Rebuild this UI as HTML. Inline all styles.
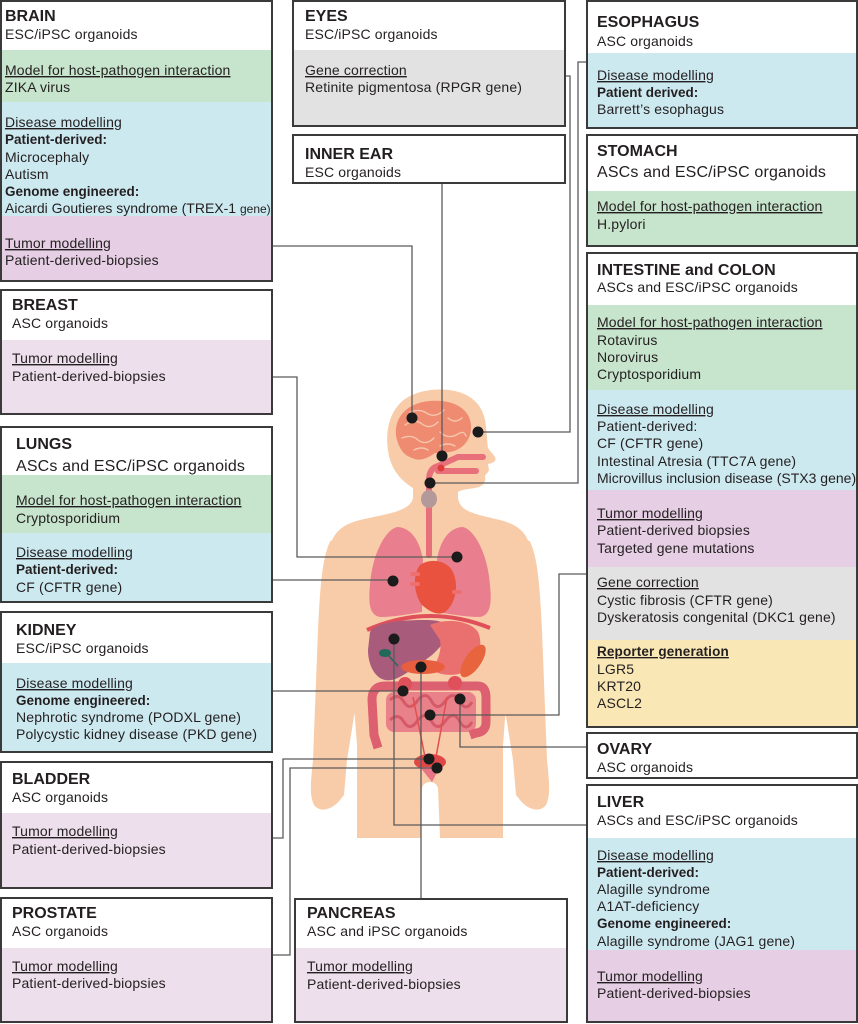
<!DOCTYPE html>
<html><head><meta charset="utf-8"><style>
html,body{margin:0;padding:0;background:#fff;}
svg{display:block;}
text{font-family:"Liberation Sans",Arial,sans-serif;fill:#231f20;font-size:14px;letter-spacing:0.15px;}
.t{font-weight:bold;font-size:16px;letter-spacing:0;}
.s16{font-size:16px;}
.u{text-decoration:underline;}
.b{font-weight:bold;font-size:13.5px;letter-spacing:0;}
.box{fill:none;stroke:#3a3a3a;stroke-width:2;}
.ln{fill:none;stroke:#5a5a5a;stroke-width:1.3;}
</style></head><body>
<svg width="858" height="1024" viewBox="0 0 858 1024" xmlns="http://www.w3.org/2000/svg">
<rect width="858" height="1024" fill="#fff"/>

<!-- BODY -->
<g fill="#F8CCA8">
<path d="M413 507 L413 488 C400 480 390 468 388 450 C385 430 390 410 405 399 C420 389 440 388 455 391 C472 395 482 405 485 420 C487 432 487 442 488 448 L495 457 C497 461 493 463 488 464 L489 470 C488 473 486 474 485 476 C486 481 484 485 479 487 C472 489 462 489 458 492 L458 507 Z"/>
<path d="M413 498 C410 512 385 514 360 520 C340 525 330 535 329 555 L337 620 L352 680 L357 745 L357 838 L421 838 L422 788 C424 780 436 780 438 788 L440 838 L503 838 L503 745 L508 680 L523 620 L531 555 C530 535 520 525 500 520 C475 514 460 512 458 498 Z"/>
<path d="M331 540 C322 555 320 590 318 630 L313 760 C311 780 309 795 314 805 C320 813 332 810 340 800 L344 795 L347 760 L355 710 L360 640 L358 580 Z"/>
<path d="M529 540 C538 555 540 590 542 630 L547 760 C549 780 551 795 546 805 C540 813 528 810 520 800 L516 795 L513 760 L505 710 L500 640 L502 580 Z"/>
</g>
<!-- brain -->
<path d="M397 440 C392 420 405 403 430 401 C455 399 470 410 471 425 C472 440 462 450 450 452 L435 453 C428 458 420 462 412 458 C404 455 400 450 397 440 Z" fill="#EE8B70"/>
<g fill="none" stroke="#F7C6AE" stroke-width="1.4" stroke-linecap="round">
<path d="M405 425 Q415 418 422 424 Q430 430 438 422"/>
<path d="M410 412 Q420 408 428 414 Q436 418 444 410"/>
<path d="M448 418 Q455 424 462 418"/>
<path d="M402 438 Q412 434 418 440 Q426 446 434 438"/>
<path d="M440 432 Q448 440 458 434 Q464 430 466 436"/>
<path d="M414 450 Q422 446 428 450"/>
<path d="M440 446 Q448 442 455 446"/>
</g>
<!-- tubes -->
<g fill="none" stroke="#E8707A" stroke-width="6" stroke-linecap="round">
<path d="M429 555 L429 478 Q430 468 438 466 L458 457 L483 457"/>
<path d="M438 471 L476 471"/>
</g>
<circle cx="441" cy="468" r="3.5" fill="#E03C3C"/>
<ellipse cx="429" cy="499" rx="8" ry="9" fill="#B4999B"/>
<!-- lungs -->
<path d="M397 527 C385 530 372 555 370 585 C368 605 370 615 380 617 C395 617 410 614 422 612 L423 560 C420 540 410 527 397 527 Z" fill="#E97F8E"/>
<path d="M463 527 C475 530 488 555 490 585 C492 605 490 615 480 617 C465 617 450 614 437 612 L437 560 C440 540 450 527 463 527 Z" fill="#E97F8E"/>
<!-- heart -->
<path d="M420 565 C430 558 445 560 452 570 C460 585 455 605 445 612 C438 616 430 612 422 605 C414 595 412 575 420 565 Z" fill="#E8523F"/>
<g fill="#EE6F70"><rect x="410" y="572" width="10" height="4" rx="2"/><rect x="410" y="582" width="10" height="4" rx="2"/><rect x="452" y="590" width="10" height="4" rx="2"/></g>
<!-- diaphragm -->
<path d="M367 630 Q428 603 490 628" fill="none" stroke="#E0505A" stroke-width="4"/>
<!-- liver -->
<path d="M370 632 C375 622 400 620 425 620 C440 620 450 623 448 632 C446 640 440 648 432 655 L420 664 C405 674 395 682 385 680 C375 678 368 665 368 650 Z" fill="#A85B7A"/>
<!-- stomach -->
<path d="M430 625 C445 618 470 620 478 632 C484 645 478 665 465 672 C452 677 440 675 432 670 C438 660 442 650 440 640 Z" fill="#EA7070"/>
<ellipse cx="473" cy="661" rx="8" ry="19" transform="rotate(35 473 661)" fill="#E8643C"/>
<ellipse cx="385" cy="653" rx="6" ry="4" fill="#1F6A58"/>
<path d="M388 655 L398 666" stroke="#1F6A58" stroke-width="1.5"/>
<ellipse cx="423" cy="667" rx="22" ry="7" fill="#E85E3E"/>
<!-- intestines -->
<rect x="386" y="692" width="90" height="40" rx="8" fill="#E9818A"/>
<g fill="none" stroke="#D45A68" stroke-width="3">
<path d="M390 700 Q398 692 404 702 Q410 712 418 700 Q426 690 432 702 Q438 712 446 700 Q454 690 460 702 Q466 712 472 702"/>
<path d="M390 720 Q398 712 404 722 Q410 732 418 720 Q426 710 432 722 Q438 732 446 720 Q454 710 460 722 Q466 732 472 722"/>
</g>
<path d="M378 748 L374 735 L372 700 Q372 686 385 686 L478 686 Q486 686 486 698 L486 722 Q486 732 476 733 L470 735" fill="none" stroke="#DD6070" stroke-width="9" stroke-linejoin="round"/>
<circle cx="405" cy="684" r="7" fill="#E0505A"/><circle cx="455" cy="683" r="7" fill="#E0505A"/>
<g stroke="#E05050" stroke-width="1.5"><path d="M413 697 L425 757"/><path d="M447 697 L436 757"/></g>
<ellipse cx="430" cy="762" rx="16" ry="8" fill="#E04848"/>
<path d="M420 767 L440 767 L432 782 Z" fill="#E87585"/>

<!-- CONNECTORS -->
<g class="ln">
<path d="M272 246 H412 V418"/>
<path d="M442 183 V456"/>
<path d="M565 76 H570 V432 H478"/>
<path d="M587 62 H578 V483 H430"/>
<path d="M272 377 H297 V557 H457"/>
<path d="M272 580 H393"/>
<path d="M272 691 H403"/>
<path d="M272 838 H283 V759 H429"/>
<path d="M272 955 H290 V768 H437"/>
<path d="M421 667 V899"/>
<path d="M394 639 V825 H587"/>
<path d="M460 699 V747 H587"/>
<path d="M430 715 H559 V574 H587"/>
</g>
<g fill="#1b1b1b">
<circle cx="412" cy="418" r="5.5"/><circle cx="478" cy="432" r="5.5"/><circle cx="442" cy="456" r="5.5"/>
<circle cx="430" cy="483" r="5.5"/><circle cx="457" cy="557" r="5.5"/><circle cx="393" cy="581" r="5.5"/>
<circle cx="394" cy="639" r="5.5"/><circle cx="421" cy="667" r="5.5"/><circle cx="403" cy="691" r="5.5"/>
<circle cx="460" cy="699" r="5.5"/><circle cx="430" cy="715" r="5.5"/><circle cx="429" cy="759" r="5.5"/>
<circle cx="437" cy="768" r="5.5"/>
</g>

<!-- BRAIN -->
<rect x="1" y="1" width="271" height="49" fill="#fff"/>
<rect x="1" y="50" width="271" height="52" fill="#C7E4CC"/>
<rect x="1" y="102" width="271" height="114" fill="#CDE9F0"/>
<rect x="1" y="216" width="271" height="65" fill="#E6CFE4"/>
<rect class="box" x="1" y="1" width="271" height="280"/>
<text class="t" x="5" y="21">BRAIN</text>
<text x="5" y="39">ESC/iPSC organoids</text>
<text class="u" x="5" y="75">Model for host-pathogen interaction</text>
<text x="5" y="92">ZIKA virus</text>
<text class="u" x="5" y="127">Disease modelling</text>
<text class="b" x="5" y="144">Patient-derived:</text>
<text x="5" y="162">Microcephaly</text>
<text x="5" y="179">Autism</text>
<text class="b" x="5" y="196">Genome engineered:</text>
<text x="5" y="213" style="letter-spacing:0">Aicardi Goutieres syndrome (TREX-1 <tspan style="font-size:12px">gene)</tspan></text>
<text class="u" x="5" y="248">Tumor modelling</text>
<text x="5" y="265">Patient-derived-biopsies</text>

<!-- BREAST -->
<rect x="1" y="290" width="271" height="50" fill="#fff"/>
<rect x="1" y="340" width="271" height="74" fill="#EEDFEC"/>
<rect class="box" x="1" y="290" width="271" height="124"/>
<text class="t" x="12" y="310">BREAST</text>
<text x="12" y="328">ASC organoids</text>
<text class="u" x="12" y="363">Tumor modelling </text>
<text x="12" y="381">Patient-derived-biopsies</text>

<!-- LUNGS -->
<rect x="1" y="427" width="271" height="48" fill="#fff"/>
<rect x="1" y="475" width="271" height="58" fill="#C7E4CC"/>
<rect x="1" y="533" width="271" height="69" fill="#CDE9F0"/>
<rect class="box" x="1" y="427" width="271" height="175"/>
<text class="t" x="16" y="449">LUNGS</text>
<text class="s16" x="16" y="471">ASCs and ESC/iPSC organoids</text>
<text class="u" x="16" y="505">Model for host-pathogen interaction</text>
<text x="16" y="523">Cryptosporidium</text>
<text class="u" x="16" y="557">Disease modelling</text>
<text class="b" x="16" y="574">Patient-derived:</text>
<text x="16" y="592">CF (CFTR gene)</text>

<!-- KIDNEY -->
<rect x="1" y="612" width="271" height="51" fill="#fff"/>
<rect x="1" y="663" width="271" height="89" fill="#CDE9F0"/>
<rect class="box" x="1" y="612" width="271" height="140"/>
<text class="t" x="16" y="635">KIDNEY</text>
<text x="16" y="653">ESC/iPSC organoids</text>
<text class="u" x="16" y="688">Disease modelling</text>
<text class="b" x="16" y="705">Genome engineered:</text>
<text x="16" y="722">Nephrotic syndrome (PODXL gene)</text>
<text x="16" y="739">Polycystic kidney disease (PKD gene)</text>

<!-- BLADDER -->
<rect x="1" y="762" width="271" height="51" fill="#fff"/>
<rect x="1" y="813" width="271" height="75" fill="#EEDFEC"/>
<rect class="box" x="1" y="762" width="271" height="126"/>
<text class="t" x="12" y="784">BLADDER</text>
<text x="12" y="802">ASC organoids</text>
<text class="u" x="12" y="836">Tumor modelling </text>
<text x="12" y="854">Patient-derived-biopsies</text>

<!-- PROSTATE -->
<rect x="1" y="898" width="271" height="50" fill="#fff"/>
<rect x="1" y="948" width="271" height="74" fill="#EEDFEC"/>
<rect class="box" x="1" y="898" width="271" height="124"/>
<text class="t" x="12" y="918">PROSTATE</text>
<text x="12" y="936">ASC organoids</text>
<text class="u" x="12" y="971">Tumor modelling </text>
<text x="12" y="988">Patient-derived-biopsies</text>

<!-- EYES -->
<rect x="293" y="1" width="272" height="49" fill="#fff"/>
<rect x="293" y="50" width="272" height="76" fill="#E2E2E3"/>
<rect class="box" x="293" y="1" width="272" height="125"/>
<text class="t" x="305" y="21">EYES</text>
<text x="305" y="39">ESC/iPSC organoids</text>
<text class="u" x="305" y="75">Gene correction </text>
<text x="305" y="92">Retinite pigmentosa (RPGR gene)</text>

<!-- INNER EAR -->
<rect x="293" y="135" width="272" height="48" fill="#fff"/>
<rect class="box" x="293" y="135" width="272" height="48"/>
<text class="t" x="305" y="159">INNER EAR</text>
<text x="305" y="177">ESC organoids</text>

<!-- PANCREAS -->
<rect x="295" y="899" width="272" height="49" fill="#fff"/>
<rect x="295" y="948" width="272" height="75" fill="#EEDFEC"/>
<rect class="box" x="295" y="899" width="272" height="123"/>
<text class="t" x="307" y="918">PANCREAS</text>
<text x="307" y="936">ASC and iPSC organoids</text>
<text class="u" x="307" y="971">Tumor modelling </text>
<text x="307" y="989">Patient-derived-biopsies</text>

<!-- ESOPHAGUS -->
<rect x="587" y="1" width="270" height="52" fill="#fff"/>
<rect x="587" y="53" width="270" height="75" fill="#CDE9F0"/>
<rect class="box" x="587" y="1" width="270" height="127"/>
<text class="t" x="597" y="27">ESOPHAGUS</text>
<text x="597" y="46">ASC organoids</text>
<text class="u" x="597" y="80">Disease modelling</text>
<text class="b" x="597" y="97">Patient derived:</text>
<text x="597" y="114">Barrett’s esophagus</text>

<!-- STOMACH -->
<rect x="587" y="135" width="270" height="56" fill="#fff"/>
<rect x="587" y="191" width="270" height="55" fill="#C7E4CC"/>
<rect class="box" x="587" y="135" width="270" height="111"/>
<text class="t" x="597" y="156">STOMACH</text>
<text class="s16" x="597" y="177">ASCs and ESC/iPSC organoids</text>
<text class="u" x="597" y="211">Model for host-pathogen interaction</text>
<text x="597" y="229">H.pylori</text>

<!-- INTESTINE -->
<rect x="587" y="253" width="270" height="52" fill="#fff"/>
<rect x="587" y="305" width="270" height="85" fill="#C7E4CC"/>
<rect x="587" y="390" width="270" height="100" fill="#CDE9F0"/>
<rect x="587" y="490" width="270" height="77" fill="#E6CFE4"/>
<rect x="587" y="567" width="270" height="73" fill="#E2E2E3"/>
<rect x="587" y="640" width="270" height="87" fill="#F9E7B5"/>
<rect class="box" x="587" y="253" width="270" height="474"/>
<text class="t" x="597" y="275">INTESTINE and COLON</text>
<text x="597" y="292">ASCs and ESC/iPSC organoids</text>
<text class="u" x="597" y="327">Model for host-pathogen interaction</text>
<text x="597" y="345">Rotavirus</text>
<text x="597" y="362">Norovirus</text>
<text x="597" y="379">Cryptosporidium</text>
<text class="u" x="597" y="414">Disease modelling</text>
<text x="597" y="431">Patient-derived:</text>
<text x="597" y="448">CF (CFTR gene)</text>
<text x="597" y="466">Intestinal Atresia (TTC7A gene)</text>
<text x="597" y="483" style="letter-spacing:0">Microvillus inclusion disease (STX3 gene)</text>
<text class="u" x="597" y="518">Tumor modelling</text>
<text x="597" y="535">Patient-derived biopsies</text>
<text x="597" y="553">Targeted gene mutations</text>
<text class="u" x="597" y="587">Gene correction </text>
<text x="597" y="605">Cystic fibrosis (CFTR gene)</text>
<text x="597" y="622">Dyskeratosis congenital (DKC1 gene)</text>
<text class="u" x="597" y="656" style="font-weight:bold;font-size:13.5px">Reporter generation </text>
<text x="597" y="674">LGR5</text>
<text x="597" y="691">KRT20</text>
<text x="597" y="708">ASCL2</text>

<!-- OVARY -->
<rect x="587" y="733" width="270" height="45" fill="#fff"/>
<rect class="box" x="587" y="733" width="270" height="45"/>
<text class="t" x="597" y="754">OVARY</text>
<text x="597" y="772">ASC organoids</text>

<!-- LIVER -->
<rect x="587" y="785" width="270" height="53" fill="#fff"/>
<rect x="587" y="838" width="270" height="112" fill="#CDE9F0"/>
<rect x="587" y="950" width="270" height="72" fill="#E6CFE4"/>
<rect class="box" x="587" y="785" width="270" height="237"/>
<text class="t" x="597" y="807">LIVER</text>
<text x="597" y="825">ASCs and ESC/iPSC organoids</text>
<text class="u" x="597" y="860">Disease modelling</text>
<text class="b" x="597" y="877">Patient-derived:</text>
<text x="597" y="894">Alagille syndrome</text>
<text x="597" y="911">A1AT-deficiency</text>
<text class="b" x="597" y="928">Genome engineered:</text>
<text x="597" y="946">Alagille syndrome (JAG1 gene)</text>
<text class="u" x="597" y="981">Tumor modelling</text>
<text x="597" y="998">Patient-derived-biopsies</text>
</svg>
</body></html>
